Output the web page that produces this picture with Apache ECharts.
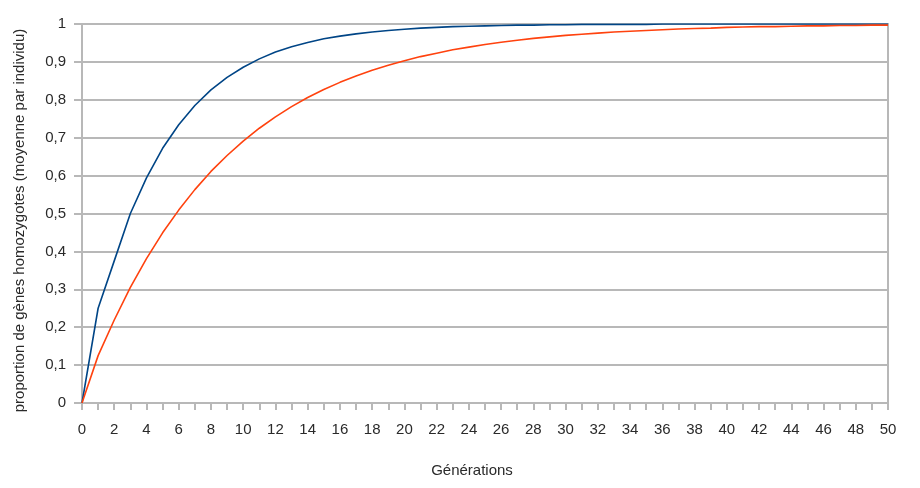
<!DOCTYPE html>
<html>
<head>
<meta charset="utf-8">
<script src="https://cdn.jsdelivr.net/npm/echarts@6/dist/echarts.min.js"></script>
<style>html,body{margin:0;padding:0;background:#fff;}#c{width:920px;height:488px;}</style>
</head>
<body>
<div id="c"></div>
<script>
var generations = [];
for (var g = 0; g <= 50; g++) generations.push(g);
var blueSeries = [0, 0.25, 0.375, 0.5, 0.594, 0.672, 0.734, 0.785, 0.826, 0.859, 0.886, 0.908, 0.926, 0.940, 0.951, 0.961, 0.968, 0.974, 0.979, 0.983, 0.986, 0.989, 0.991, 0.993, 0.994, 0.995, 0.996, 0.997, 0.997, 0.998, 0.998, 0.999, 0.999, 0.999, 0.999, 0.999, 1, 1, 1, 1, 1, 1, 1, 1, 1, 1, 1, 1, 1, 1, 1];
var orangeSeries = [0, 0.125, 0.219, 0.305, 0.381, 0.449, 0.509, 0.563, 0.611, 0.653, 0.691, 0.725, 0.755, 0.782, 0.806, 0.827, 0.846, 0.863, 0.878, 0.891, 0.903, 0.914, 0.923, 0.932, 0.939, 0.946, 0.952, 0.957, 0.962, 0.966, 0.970, 0.973, 0.976, 0.979, 0.981, 0.983, 0.985, 0.987, 0.988, 0.989, 0.991, 0.992, 0.993, 0.993, 0.994, 0.995, 0.995, 0.996, 0.996, 0.997, 0.997];
var xName = 'Générations';
var yName = 'proportion de gènes homozygotes (moyenne par individu)';

function pairs(vals) { return generations.map(function (x, i) { return [x, vals[i]]; }); }

var chart = echarts.init(document.getElementById('c'));
var font = '"Liberation Sans", Arial, sans-serif';
var gridColor = '#b8b8b8';
var textColor = '#2a2a2a';
chart.setOption({
  animation: false,
  grid: { left: 82, right: 32, top: 24, bottom: 85, show: true, borderColor: gridColor, borderWidth: 2, backgroundColor: 'transparent' },
  xAxis: {
    type: 'value', min: 0, max: 50, interval: 1,
    name: xName, nameLocation: 'middle', nameGap: 60,
    nameTextStyle: { fontFamily: font, fontSize: 15, color: textColor, padding: [0, 26, 0, 0] },
    axisLine: { show: true, lineStyle: { color: gridColor, width: 2 } },
    axisTick: { show: true, length: 7, lineStyle: { color: gridColor, width: 2 } },
    axisLabel: { fontFamily: font, fontSize: 15, color: textColor, margin: 19,
      formatter: function (v) { return v % 2 === 0 ? String(v) : ''; } },
    splitLine: { show: false }
  },
  yAxis: {
    type: 'value', min: 0, max: 1, interval: 0.1,
    name: yName, nameLocation: 'middle', nameGap: 55,
    nameTextStyle: { fontFamily: font, fontSize: 15, color: textColor, padding: [0, 14, 0, 0] },
    axisLine: { show: true, lineStyle: { color: gridColor, width: 2 } },
    axisTick: { show: true, length: 8, lineStyle: { color: gridColor, width: 2 } },
    axisLabel: { fontFamily: font, fontSize: 15, color: textColor, margin: 16,
      formatter: function (v) { return String(Math.round(v * 10) / 10).replace('.', ','); } },
    splitLine: { show: true, lineStyle: { color: gridColor, width: 2 } }
  },
  series: [
    { type: 'line', data: pairs(blueSeries), showSymbol: false, lineStyle: { color: '#004586', width: 1.6 }, itemStyle: { color: '#004586' } },
    { type: 'line', data: pairs(orangeSeries), showSymbol: false, lineStyle: { color: '#ff420e', width: 1.6 }, itemStyle: { color: '#ff420e' } }
  ]
});
</script>
</body>
</html>
